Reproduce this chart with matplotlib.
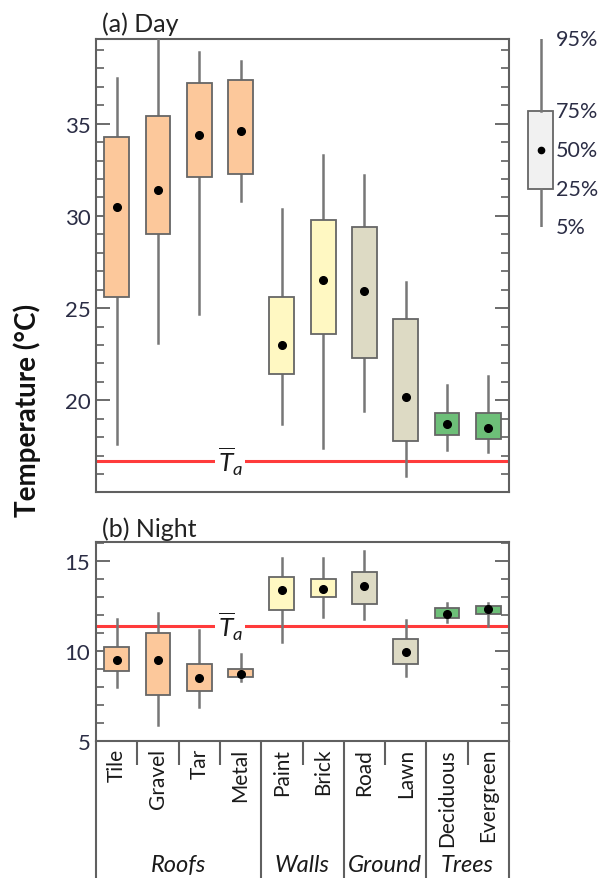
import matplotlib
matplotlib.use("Agg")
import matplotlib.pyplot as plt
from matplotlib.ticker import MultipleLocator

plt.rcParams['font.family'] = ['Lato', 'DejaVu Sans']
plt.rcParams['mathtext.fontset'] = 'custom'
plt.rcParams['mathtext.it'] = 'Lato:italic'
plt.rcParams['mathtext.rm'] = 'Lato'

categories = ["Tile", "Gravel", "Tar", "Metal", "Paint", "Brick", "Road", "Lawn", "Deciduous", "Evergreen"]
groups = ["Roofs", "Roofs", "Roofs", "Roofs", "Walls", "Walls", "Ground", "Ground", "Trees", "Trees"]
group_colors = {"Roofs": "#FCC89B", "Walls": "#FFF8C2", "Ground": "#DDDAC4", "Trees": "#6DBF78"}

# Day percentiles (5, 25, 50, 75, 95)
day_p05 = [17.6, 23.1, 24.7, 30.8, 18.7, 17.4, 19.4, 15.9, 17.3, 17.2]
day_p25 = [25.6, 29.0, 32.1, 32.3, 21.4, 23.6, 22.3, 17.8, 18.1, 17.9]
day_p50 = [30.5, 31.4, 34.4, 34.6, 23.0, 26.5, 25.9, 20.2, 18.7, 18.5]
day_p75 = [34.3, 35.4, 37.2, 37.4, 25.6, 29.8, 29.4, 24.4, 19.3, 19.3]
day_p95 = [37.5, 40.0, 38.9, 38.4, 30.4, 33.3, 32.2, 26.4, 20.8, 21.3]
day_Ta = 16.7

# Night percentiles
night_p05 = [8.0, 5.9, 6.9, 8.35, 10.5, 11.9, 11.8, 8.6, 11.6, 11.4]
night_p25 = [8.9, 7.55, 7.8, 8.55, 12.3, 13.0, 12.6, 9.3, 11.85, 12.07]
night_p50 = [9.5, 9.5, 8.5, 8.75, 13.4, 13.45, 13.6, 9.95, 12.07, 12.33]
night_p75 = [10.25, 11.0, 9.3, 9.0, 14.15, 14.0, 14.4, 10.7, 12.4, 12.5]
night_p95 = [11.8, 12.1, 11.15, 9.85, 15.2, 15.2, 15.55, 11.75, 12.7, 12.7]
night_Ta = 11.42

legend_labels = ["95%", "75%", "50%", "25%", "5%"]
legend_vals = [1.0, 0.617, 0.41, 0.202, 0.0]

W, H = 601, 879
fig = plt.figure(figsize=(W / 100, H / 100), dpi=100)

def px_axes(left, top, right, bottom):
    return fig.add_axes([left / W, 1 - bottom / H, (right - left) / W, (bottom - top) / H])

ax1 = px_axes(96, 40, 509, 493)
ax2 = px_axes(96, 543, 509, 742)

tick_color = "#2b2d45"
spine_color = "#606060"
positions = list(range(1, len(categories) + 1))

def draw(ax, p05, p25, p50, p75, p95, ta, ylim, major, title):
    stats = []
    for i in range(len(categories)):
        stats.append(dict(whislo=p05[i], q1=p25[i], med=p50[i], q3=p75[i], whishi=p95[i], fliers=[]))
    bp = ax.bxp(stats, positions=positions, widths=0.6, patch_artist=True, showcaps=False,
                showfliers=False,
                boxprops=dict(edgecolor="#666666", linewidth=1.3),
                whiskerprops=dict(color="#777777", linewidth=1.8),
                medianprops=dict(linewidth=0, color="none"), zorder=3)
    for patch, g in zip(bp['boxes'], groups):
        patch.set_facecolor(group_colors[g])
        patch.set_zorder(3)
    for w in bp['whiskers']:
        w.set_zorder(2.8)
    ax.plot(positions, p50, 'o', color='black', markersize=5.5, zorder=4)
    ax.axhline(ta, color="#FF3B3B", linewidth=2.2, zorder=2)
    ax.text(3.75, ta, r'$\overline{T}_{a}$', ha='center', va='center', fontsize=19,
            color='#1a1a1a', zorder=2.5,
            bbox=dict(facecolor='white', edgecolor='none', pad=1.5))
    ax.set_xlim(0.5, 10.5)
    ax.set_ylim(*ylim)
    ax.yaxis.set_major_locator(MultipleLocator(major))
    ax.yaxis.set_minor_locator(MultipleLocator(1))
    ax.tick_params(axis='y', which='major', direction='in', length=10, width=1.3,
                   color=spine_color, left=True, right=True, labelsize=16, labelcolor=tick_color, pad=4)
    ax.tick_params(axis='y', which='minor', direction='in', length=6, width=1.2,
                   color=spine_color, left=True, right=True)
    ax.tick_params(axis='x', which='both', bottom=False, labelbottom=False)
    for s in ax.spines.values():
        s.set_color(spine_color)
        s.set_linewidth(1.5)
    ax.text(0.015, 1.008, title, transform=ax.transAxes, ha='left', va='bottom',
            fontsize=18, color="#222222")

draw(ax1, day_p05, day_p25, day_p50, day_p75, day_p95, day_Ta, (15.02, 39.6), 5, "(a) Day")
draw(ax2, night_p05, night_p25, night_p50, night_p75, night_p95, night_Ta, (5.0, 16.07), 5, "(b) Night")

# category labels & separators under bottom panel
trans = ax2.get_xaxis_transform()
long_y = -(879 - 742) / 199
short_y = -(766 - 742) / 199
for i in range(len(categories) + 1):
    xpos = i + 0.5
    if i == 0 or i == len(categories) or groups[i - 1] != groups[i]:
        yb = long_y
    else:
        yb = short_y
    ax2.plot([xpos, xpos], [0, yb], transform=trans, color=spine_color, linewidth=1.5,
             clip_on=False, solid_capstyle='butt')
for xpos, name in zip(positions, categories):
    ax2.text(xpos, -0.035, name, transform=trans, rotation=90, ha='center', va='top',
             fontsize=15, color="#1a1a1a")
group_names = []
for g in groups:
    if g not in group_names:
        group_names.append(g)
for g in group_names:
    idx = [p for p, gg in zip(positions, groups) if gg == g]
    center = (min(idx) + max(idx)) / 2
    ax2.text(center, -(866 - 742) / 199, g, transform=trans, ha='center', va='center',
             fontsize=17, style='italic', color="#1a1a1a")

fig.text(27 / W, 1 - 410 / H, "Temperature (°C)", rotation=90, ha='center', va='center',
         fontsize=20, fontweight='bold', color="#111111")

# legend schematic
axl = px_axes(515, 40, 601, 228)
axl.set_xlim(0, 1)
axl.set_ylim(0, 1)
axl.axis('off')
lx = 0.3
axl.bxp([dict(whislo=legend_vals[4], q1=legend_vals[3], med=legend_vals[2], q3=legend_vals[1],
              whishi=legend_vals[0], fliers=[])], positions=[lx], widths=25 / 86,
        patch_artist=True, showcaps=False, showfliers=False,
        boxprops=dict(facecolor="#F1F1F1", edgecolor="#666666", linewidth=1.3),
        whiskerprops=dict(color="#777777", linewidth=1.8),
        medianprops=dict(linewidth=0, color="none"))
axl.plot([lx], [legend_vals[2]], 'o', color='black', markersize=4.5, zorder=4)
for lab, v in zip(legend_labels, legend_vals):
    axl.text(0.48, v, lab, ha='left', va='center', fontsize=15.5, color=tick_color, clip_on=False)

fig.savefig("out.png", dpi=100)
